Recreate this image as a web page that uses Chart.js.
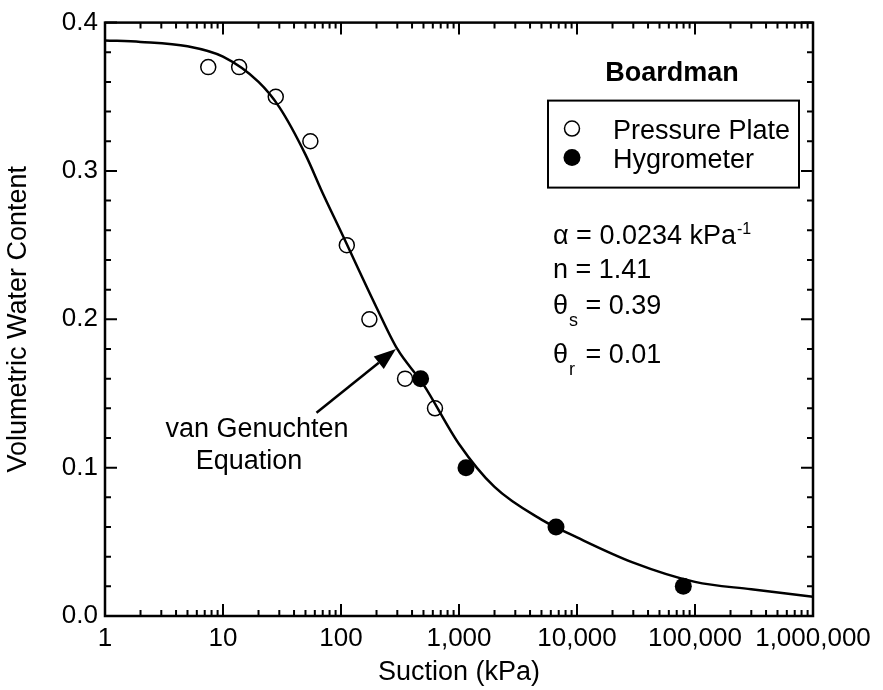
<!DOCTYPE html>
<html>
<head>
<meta charset="utf-8">
<script src="https://cdn.jsdelivr.net/npm/chart.js@4/dist/chart.umd.min.js"></script>
<style>
  html, body { margin: 0; padding: 0; background: #fff; }
</style>
</head>
<body>
<canvas id="swcc" width="883" height="690"></canvas>
<script>
// Boardman soil-water characteristic curve
var ppSuction = [7.5, 13.7, 28, 55, 112, 174, 349, 626];          // kPa
var ppTheta = [0.37, 0.37, 0.35, 0.32, 0.25, 0.20, 0.16, 0.14];
var hygSuction = [473, 1146, 6640, 79600];
var hygTheta = [0.16, 0.10, 0.06, 0.02];

// van Genuchten fit
var fitSuction = [1, 2, 5, 10, 20, 30, 50, 70, 100, 200, 300, 500, 1000, 2000, 5000, 10000, 30000, 100000, 300000, 1000000];
var fitTheta = [0.388, 0.387, 0.384, 0.377, 0.360, 0.343, 0.311, 0.285, 0.259, 0.208, 0.180, 0.156, 0.116, 0.087, 0.065, 0.053, 0.036, 0.023, 0.018, 0.013];

var xTickValues = [1, 10, 100, 1000, 10000, 100000, 1000000];
var yTickValues = [0, 0.1, 0.2, 0.3, 0.4];
var yMinorStep = 0.02;

var fitParams = [
  { sym: '\u03b1', sub: '', text: ' = 0.0234 kPa', sup: '-1' },
  { sym: 'n', sub: '', text: ' = 1.41', sup: '' },
  { sym: '\u03b8', sub: 's', text: ' = 0.39', sup: '' },
  { sym: '\u03b8', sub: 'r', text: ' = 0.01', sup: '' }
];

var arrowFrom = { x: 62, y: 0.137 };
var arrowTo = { x: 292, y: 0.180 };

var FONT = "'Liberation Sans', Arial, sans-serif";

function pairs(xs, ys) {
  return xs.map(function (x, i) { return { x: x, y: ys[i] }; });
}

// frame with inward ticks on all four sides
var framePlugin = {
  id: 'frame',
  afterDraw: function (chart) {
    var c = chart.ctx, a = chart.chartArea;
    var xs = chart.scales.x, ys = chart.scales.y;
    c.save();
    c.strokeStyle = '#000';
    c.lineWidth = 2;
    c.beginPath();
    xTickValues.forEach(function (v, i) {
      var px = xs.getPixelForValue(v);
      c.moveTo(px, a.bottom); c.lineTo(px, a.bottom - 12);
      c.moveTo(px, a.top); c.lineTo(px, a.top + 12);
      if (i < xTickValues.length - 1) {
        for (var k = 2; k <= 9; k++) {
          var mx = xs.getPixelForValue(v * k);
          c.moveTo(mx, a.bottom); c.lineTo(mx, a.bottom - 6);
          c.moveTo(mx, a.top); c.lineTo(mx, a.top + 6);
        }
      }
    });
    for (var t = 0; t <= 20; t++) {
      var val = t * yMinorStep;
      var py = ys.getPixelForValue(val);
      var len = (t % 5 === 0) ? 12 : 6;
      c.moveTo(a.left, py); c.lineTo(a.left + len, py);
      c.moveTo(a.right, py); c.lineTo(a.right - len, py);
    }
    c.stroke();
    c.lineWidth = 2.5;
    c.strokeRect(a.left, a.top, a.right - a.left, a.bottom - a.top);
    c.restore();
  }
};

// legend box, site name, fit parameters and the arrow to the curve
var notesPlugin = {
  id: 'notes',
  afterDraw: function (chart) {
    var c = chart.ctx, a = chart.chartArea;
    var xs = chart.scales.x, ys = chart.scales.y;
    var L = a.left, T = a.top;
    c.save();
    c.fillStyle = '#000';
    c.strokeStyle = '#000';
    c.textBaseline = 'alphabetic';

    c.font = 'bold 27px ' + FONT;
    c.textAlign = 'center';
    c.fillText('Boardman', L + 567, T + 58);

    // legend
    c.lineWidth = 2;
    c.strokeRect(L + 443, T + 78, 251, 87);
    var ds = chart.data.datasets;
    c.font = '27px ' + FONT;
    c.textAlign = 'left';
    c.lineWidth = 1.5;
    c.beginPath(); c.arc(L + 467, T + 106, 7.5, 0, Math.PI * 2); c.stroke();
    c.fillText(ds[1].label, L + 508, T + 116);
    c.beginPath(); c.arc(L + 467, T + 135, 8.5, 0, Math.PI * 2); c.fill();
    c.fillText(ds[2].label, L + 508, T + 145);

    // fit parameters
    var baselines = [221, 255, 291, 340];
    fitParams.forEach(function (p, i) {
      var x = L + 448, y = T + baselines[i];
      c.font = '27px ' + FONT;
      c.fillText(p.sym, x, y);
      x += c.measureText(p.sym).width;
      if (p.sub) {
        c.font = '18px ' + FONT;
        c.fillText(p.sub, x + 1, y + 12);
        x += 10;
      }
      c.font = '27px ' + FONT;
      c.fillText(p.text, x, y);
      x += c.measureText(p.text).width;
      if (p.sup) {
        c.font = '16px ' + FONT;
        c.fillText(p.sup, x + 1, y - 10);
      }
    });

    // annotation for the fitted curve
    c.font = '27px ' + FONT;
    c.textAlign = 'center';
    c.fillText('van Genuchten', L + 152, T + 414);
    c.fillText('Equation', L + 144, T + 446);

    var x0 = xs.getPixelForValue(arrowFrom.x), y0 = ys.getPixelForValue(arrowFrom.y);
    var x1 = xs.getPixelForValue(arrowTo.x), y1 = ys.getPixelForValue(arrowTo.y);
    var ang = Math.atan2(y1 - y0, x1 - x0);
    var head = 22, half = 8;
    var bx = x1 - head * Math.cos(ang), by = y1 - head * Math.sin(ang);
    c.lineWidth = 2.5;
    c.beginPath(); c.moveTo(x0, y0); c.lineTo(bx, by); c.stroke();
    c.beginPath();
    c.moveTo(x1, y1);
    c.lineTo(bx + half * Math.sin(ang), by - half * Math.cos(ang));
    c.lineTo(bx - half * Math.sin(ang), by + half * Math.cos(ang));
    c.closePath(); c.fill();
    c.restore();
  }
};

var ctx = document.getElementById('swcc').getContext('2d');
var chart = new Chart(ctx, {
  type: 'scatter',
  data: {
    datasets: [
      {
        label: 'van Genuchten Equation',
        data: pairs(fitSuction, fitTheta),
        showLine: true,
        borderColor: '#000',
        borderWidth: 2.5,
        pointRadius: 0,
        cubicInterpolationMode: 'monotone',
        order: 3
      },
      {
        label: 'Pressure Plate',
        data: pairs(ppSuction, ppTheta),
        pointRadius: 7.5,
        pointBorderWidth: 1.5,
        pointBorderColor: '#000',
        pointBackgroundColor: 'rgba(0,0,0,0)',
        order: 2
      },
      {
        label: 'Hygrometer',
        data: pairs(hygSuction, hygTheta),
        pointRadius: 8.5,
        pointBorderWidth: 0,
        pointBackgroundColor: '#000',
        order: 1
      }
    ]
  },
  options: {
    responsive: false,
    animation: false,
    layout: { padding: { left: 0, top: 22, right: 70, bottom: 0 } },
    plugins: { legend: { display: false }, tooltip: { enabled: false } },
    scales: {
      x: {
        type: 'logarithmic',
        min: 1,
        max: 1000000,
        grid: { display: false, drawTicks: false },
        border: { display: false },
        afterBuildTicks: function (s) { s.ticks = xTickValues.map(function (v) { return { value: v }; }); },
        afterFit: function (s) { s.height = 74; },
        ticks: {
          autoSkip: false,
          maxRotation: 0,
          padding: 7,
          color: '#000',
          font: { family: FONT, size: 26 },
          callback: function (v) { return Number(v).toLocaleString('en-US'); }
        },
        title: {
          display: true,
          text: 'Suction (kPa)',
          color: '#000',
          font: { family: FONT, size: 27 },
          padding: { top: 0, bottom: 1 }
        }
      },
      y: {
        min: 0,
        max: 0.4,
        grid: { display: false, drawTicks: false },
        border: { display: false },
        afterBuildTicks: function (s) { s.ticks = yTickValues.map(function (v) { return { value: v }; }); },
        afterFit: function (s) { s.width = 105; },
        ticks: {
          padding: 7,
          color: '#000',
          font: { family: FONT, size: 26 },
          callback: function (v) { return Number(v).toFixed(1); }
        },
        title: {
          display: true,
          text: 'Volumetric Water Content',
          color: '#000',
          font: { family: FONT, size: 27 },
          padding: { top: 2, bottom: 0 }
        }
      }
    }
  },
  plugins: [framePlugin, notesPlugin]
});
</script>
</body>
</html>
